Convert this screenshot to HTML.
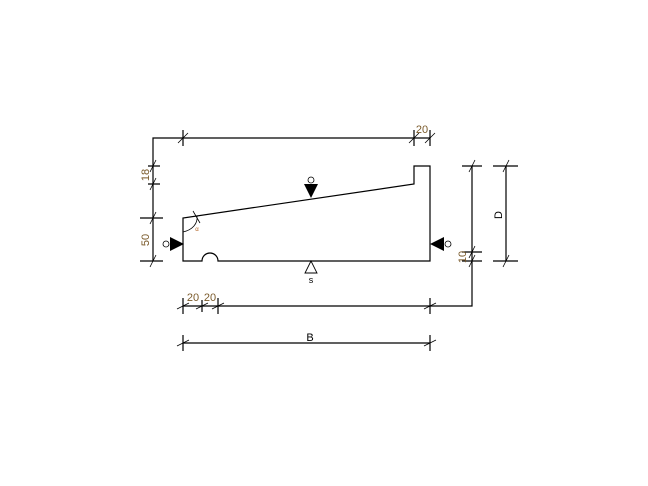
<!DOCTYPE html>
<html><head><style>html,body{margin:0;padding:0;background:#fff}svg{display:block}</style></head>
<body>
<svg width="648" height="486" viewBox="0 0 648 486" xmlns="http://www.w3.org/2000/svg" font-family="Liberation Sans, sans-serif">
<g stroke="#000" stroke-width="1.2" fill="none">
<path d="M183,232 L183,261 L202,261 A8,8 0 0 1 218,261 L430,261 L430,166 L414,166 L414,184 L183,218 L183,232"/>
<path d="M153,261 L153,138 L430,138"/>
<path d="M183,130 L183,146 M414,130 L414,146 M430,130 L430,146"/>
<path d="M148,166 L160,166 M148,184 L160,184 M140,218 L163,218 M140,261 L163,261"/>
<path d="M472,166 L472,306 L183,306"/>
<path d="M462,166 L482,166 M462,252 L482,252 M462,261 L482,261"/>
<path d="M506,166 L506,261 M493,166 L518,166 M493,261 L518,261"/>
<path d="M183,298 L183,314 M202,300 L202,312 M218,298 L218,314 M430,298 L430,314"/>
<path d="M183,343 L430,343 M183,335 L183,351 M430,335 L430,351"/>
<path stroke-width="0.8" d="M178,143 L188,133 M409,143 L419,133 M425,143 L435,133 M150,172 L156,160 M150,190 L156,178 M150,224 L156,212 M150,267 L156,255 M469,172 L475,160 M469,258 L475,246 M469,267 L475,255 M503,172 L509,160 M503,267 L509,255 M177,309 L189,303 M196,309 L208,303 M212,309 L224,303 M424,309 L436,303 M177,346 L189,340 M424,346 L436,340"/>
<path stroke-width="0.8" d="M183,232 C192,230 198,224 197,216 M193,211 L200,223"/>
<circle cx="311" cy="180" r="3" stroke-width="0.8"/>
<circle cx="166" cy="244" r="3" stroke-width="0.8"/>
<circle cx="448" cy="244" r="3" stroke-width="0.8"/>
<path stroke-width="0.9" d="M311,261 L305,273 L317,273 Z"/>
</g>
<g fill="#000">
<path d="M304,184 L318,184 L311,198 Z"/>
<path d="M170,237 L170,251 L184,244 Z"/>
<path d="M444,237 L444,251 L430,244 Z"/>
</g>
<g font-size="11" fill="#333">
<text x="422" y="133" text-anchor="middle" fill="#7a5a2a">20</text>
<text x="193" y="301" text-anchor="middle" fill="#7a5a2a">20</text>
<text x="210" y="301" text-anchor="middle" fill="#7a5a2a">20</text>
<text x="310" y="341" text-anchor="middle" fill="#000">B</text>
<text transform="translate(149,175) rotate(-90)" text-anchor="middle" fill="#7a5a2a">18</text>
<text transform="translate(149,240) rotate(-90)" text-anchor="middle" fill="#7a5a2a">50</text>
<text transform="translate(466,257) rotate(-90)" text-anchor="middle" fill="#7a5a2a">10</text>
<text transform="translate(502,215) rotate(-90)" text-anchor="middle" fill="#000">D</text>
<text x="311" y="283" text-anchor="middle" font-size="9" fill="#000">s</text>
<text x="197" y="231" text-anchor="middle" font-size="6" fill="#b06020">α</text>
</g>
</svg>
</body></html>
